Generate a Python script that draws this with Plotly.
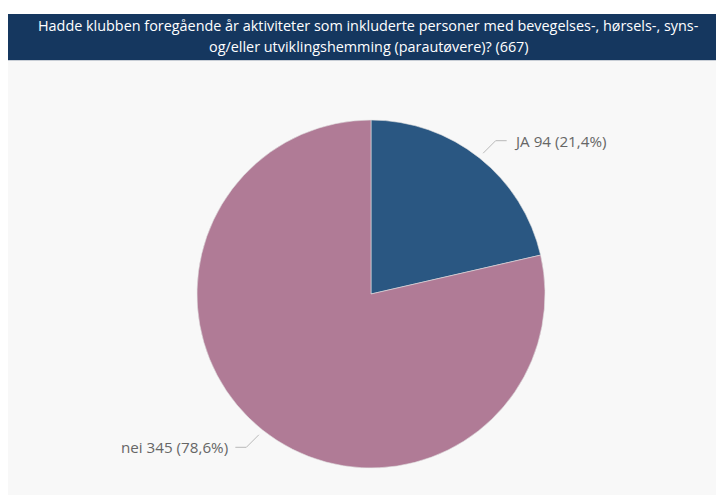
import math
import plotly.graph_objects as go

labels = ["JA", "nei"]
values = [94, 345]
colors = ["#2a5782", "#b07b96"]
title_lines = [
    "Hadde klubben foregående år aktiviteter som inkluderte personer med bevegelses-, hørsels-, syns-",
    "og/eller utviklingshemming (parautøvere)? (667)",
]

W, H = 724, 495
OFF = 8  # page body margin (screen px = figure px + OFF)
# pie geometry in screen pixels
cx, cy, R = 371, 294, 174

def px(x):
    return (x - OFF) / W

def py(y):
    return (H - (y - OFF)) / H

fig = go.Figure()
fig.add_trace(go.Pie(
    labels=labels, values=values, sort=False, direction="clockwise", rotation=0,
    marker=dict(colors=colors, line=dict(color="#e0e0e0", width=0.6)),
    textinfo="none", hoverinfo="label+value+percent", showlegend=False,
    domain=dict(x=[px(cx - R), px(cx + R)], y=[py(cy + R), py(cy - R)]),
))

shapes = [
    dict(type="rect", xref="paper", yref="paper", x0=0, x1=1, y0=0, y1=py(61),
         fillcolor="#f8f8f8", line=dict(width=0), layer="below"),
    dict(type="rect", xref="paper", yref="paper", x0=0, x1=1, y0=py(61), y1=py(60),
         fillcolor="#c8ced6", line=dict(width=0), layer="below"),
    dict(type="rect", xref="paper", yref="paper", x0=0, x1=1, y0=py(60), y1=py(14),
         fillcolor="#15375f", line=dict(width=0), layer="below"),
]
annotations = []
for i, line in enumerate(title_lines):
    annotations.append(dict(
        text=line, xref="paper", yref="paper", x=px(368.5), y=py(25 + 22 * i),
        xanchor="center", yanchor="middle", showarrow=False,
        font=dict(family="Open Sans, Noto Sans, sans-serif", size=14.4, color="#ffffff")))

total = sum(values)
cum = 0
for lab, v in zip(labels, values):
    mid = (cum + v / 2) / total * 2 * math.pi
    cum += v
    s, c = math.sin(mid), math.cos(mid)
    x1, y1 = cx + (R + 6) * s, cy - (R + 6) * c
    y2 = cy - (R + 22) * c
    side = 1 if s >= 0 else -1
    x2 = x1 + side * abs(y2 - y1)
    x3 = x2 + side * 11
    shapes.append(dict(type="path", xref="paper", yref="paper",
                       path=f"M {px(x1)},{py(y1)} L {px(x2)},{py(y2)} L {px(x3)},{py(y2)}",
                       line=dict(color="#b8b8b8", width=1)))
    pct = f"{v / total * 100:.1f}".replace(".", ",")
    annotations.append(dict(
        text=f"{lab} {v} ({pct}%)", xref="paper", yref="paper",
        x=px(x3 + side * 5), y=py(y2), xanchor="left" if side > 0 else "right", yanchor="middle",
        showarrow=False, font=dict(family="Open Sans, Noto Sans, sans-serif", size=15.2, color="#666666")))

fig.update_layout(
    width=W, height=H, margin=dict(l=0, r=0, t=0, b=0),
    paper_bgcolor="#ffffff", plot_bgcolor="#ffffff",
    shapes=shapes, annotations=annotations,
)
fig.write_html("out.html")
